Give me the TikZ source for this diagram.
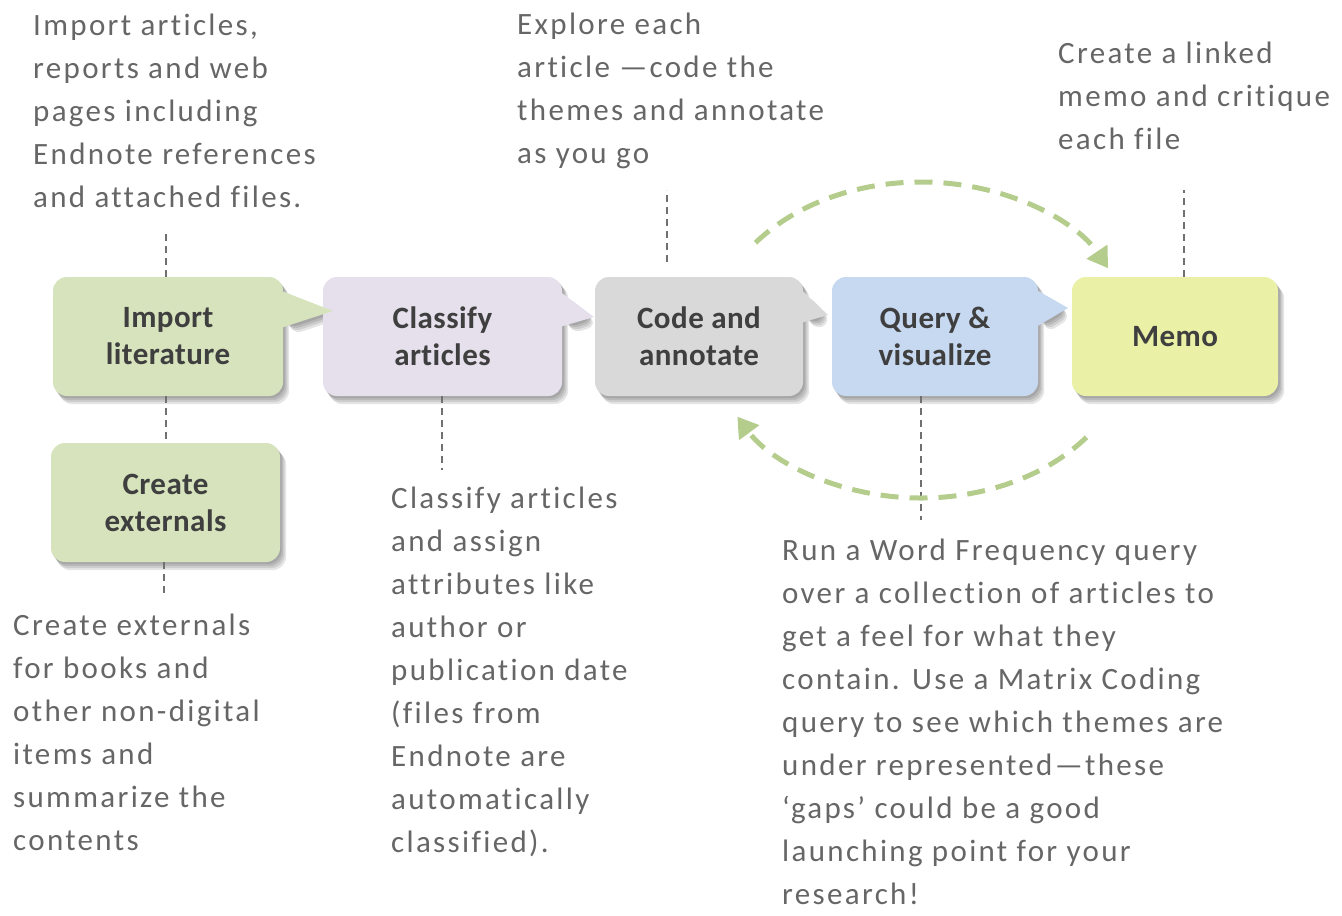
\documentclass[tikz,border=0pt]{standalone}
\usepackage{fontspec}
\setmainfont{Carlito}
\newfontfamily\notefont[LetterSpace=7.5,Ligatures=NoCommon]{Carlito}
\newfontfamily\boxfontfam[LetterSpace=1.5,Ligatures=NoCommon]{Carlito}
\usetikzlibrary{arrows.meta,calc,backgrounds}
\definecolor{impgreen}{HTML}{D6E3BC}
\definecolor{clslav}{HTML}{E5E0EC}
\definecolor{codegray}{HTML}{D9D9D9}
\definecolor{qryblue}{HTML}{C6D9F1}
\definecolor{memoyel}{HTML}{EAF0A6}
\definecolor{notetext}{HTML}{666666}
\definecolor{boxtext}{HTML}{3F3F3F}
\definecolor{guidegray}{HTML}{707070}
\definecolor{cycgreen}{HTML}{B4CC8C}
\newcommand\noteblk[1]{\begin{tabular}[t]{@{}l@{}}#1\end{tabular}}
\begin{document}
\begin{tikzpicture}[x=1pt,y=-1pt,
  box/.style={rounded corners=14pt, inner sep=0pt, align=center, text=boxtext,
    minimum height=119pt, font=\boxfontfam\bfseries\fontsize{31}{37}\selectfont},
  note/.style={anchor=base west, inner sep=0pt, text=notetext,
    font=\notefont\fontsize{31}{43}\selectfont},
  guide/.style={draw=guidegray, line width=1.3pt, dash pattern=on 7pt off 5pt},
  cyc/.style={draw=cycgreen, line width=5pt, dash pattern=on 18pt off 11pt,
    -{Triangle[length=20pt,width=24pt]}},
  shadowlayer/.style={fill=black, opacity=0.1, rounded corners=14pt}
]
\useasboundingbox (0,0) rectangle (1342,916);

% boxes
\node[box, fill=impgreen, minimum width=230pt] (imp) at (168,336.5) {Import\\literature};
\node[box, fill=clslav, minimum width=239pt] (cls) at (442.5,336.5) {Classify\\articles};
\node[box, fill=codegray, minimum width=208pt] (code) at (699,336.5) {Code and\\annotate};
\node[box, fill=qryblue, minimum width=206pt] (qry) at (935,336.5) {Query \&\\visualize};
\node[box, fill=memoyel, minimum width=206pt] (memo) at (1175,336.5) {Memo};
\node[box, fill=impgreen, minimum width=229pt] (ext) at (165.5,502.5) {Create\\externals};

% callout pointers
\fill[impgreen] ([xshift=-2pt,yshift=-14pt]imp.north east) -- (333,311) -- ([xshift=-2pt,yshift=-51pt]imp.north east) -- cycle;
\fill[clslav] ([xshift=-2pt,yshift=-15pt]cls.north east) -- (594,317) -- ([xshift=-2pt,yshift=-50pt]cls.north east) -- cycle;
\fill[codegray] ([xshift=-2pt,yshift=-13pt]code.north east) -- (828,315) -- ([xshift=-2pt,yshift=-46pt]code.north east) -- cycle;
\fill[qryblue] ([xshift=-2pt,yshift=-13pt]qry.north east) -- (1068,308) -- ([xshift=-2pt,yshift=-50pt]qry.north east) -- cycle;

% shadows
\begin{scope}[on background layer]
\foreach \s in {1,2,3,4}{
  \begin{scope}[transform canvas={xshift=1.5*\s pt, yshift=-2*\s pt}]
    \fill[shadowlayer] (imp.north west) rectangle (imp.south east);
    \fill[shadowlayer] ([yshift=-14pt]imp.north east) -- (333,311) -- ([yshift=-51pt]imp.north east) -- cycle;
    \fill[shadowlayer] (cls.north west) rectangle (cls.south east);
    \fill[shadowlayer] ([yshift=-15pt]cls.north east) -- (594,317) -- ([yshift=-50pt]cls.north east) -- cycle;
    \fill[shadowlayer] (code.north west) rectangle (code.south east);
    \fill[shadowlayer] ([yshift=-13pt]code.north east) -- (828,315) -- ([yshift=-46pt]code.north east) -- cycle;
    \fill[shadowlayer] (qry.north west) rectangle (qry.south east);
    \fill[shadowlayer] ([yshift=-13pt]qry.north east) -- (1068,308) -- ([yshift=-50pt]qry.north east) -- cycle;
    \fill[shadowlayer] (memo.north west) rectangle (memo.south east);
    \fill[shadowlayer] (ext.north west) rectangle (ext.south east);
  \end{scope}
}
\end{scope}

% notes
\node[note] (nimp) at (33,35) {\noteblk{Import articles,\\reports and web\\pages including\\Endnote references\\and attached files.}};
\node[note] (ncode) at (517,34) {\noteblk{Explore each\\article —code the\\themes and annotate\\as you go}};
\node[note] (nmemo) at (1058,63) {\noteblk{Create a linked\\memo and critique\\each file}};
\node[note] (next) at (13,635) {\noteblk{Create externals\\for books and\\other non-digital\\items and\\summarize the\\contents}};
\node[note] (ncls) at (391,508) {\noteblk{Classify articles\\and assign\\attributes like\\author or\\publication date\\(files from\\Endnote are\\automatically\\classified).}};
\node[note] (nqry) at (782,560) {\noteblk{Run a Word Frequency query\\over a collection of articles to\\get a feel for what they\\contain. Use a Matrix Coding\\query to see which themes are\\under represented—these\\‘gaps’ could be a good\\launching point for your\\research!}};

% guide lines
\coordinate (impT) at (166,232);
\coordinate (extB) at (164,598);
\coordinate (clsB) at (442,470);
\coordinate (codeT1) at (667,262);
\coordinate (codeT2) at (667,190);
\coordinate (qryB) at (921,520);
\coordinate (memoT) at (1184,190);
\draw[guide] (imp.north -| impT) -- (impT);
\draw[guide] (imp.south -| impT) -- (ext.north -| impT);
\draw[guide] (ext.south -| extB) -- (extB);
\draw[guide] (cls.south -| clsB) -- (clsB);
\draw[guide] (codeT1) -- (codeT2);
\draw[guide] (qry.south -| qryB) -- (qryB);
\draw[guide] (memo.north -| memoT) -- (memoT);

% cycle arrows
\coordinate (ctr) at (921,340);
\coordinate (arcA) at ($(ctr)+(-142:210 and 158)$);
\coordinate (arcB) at ($(ctr)+(38:210 and 158)$);
\draw[cyc] (arcA) arc[start angle=-142, end angle=-27, x radius=210, y radius=158];
\draw[cyc] (arcB) arc[start angle=38, end angle=151, x radius=210, y radius=158];
\end{tikzpicture}
\end{document}
